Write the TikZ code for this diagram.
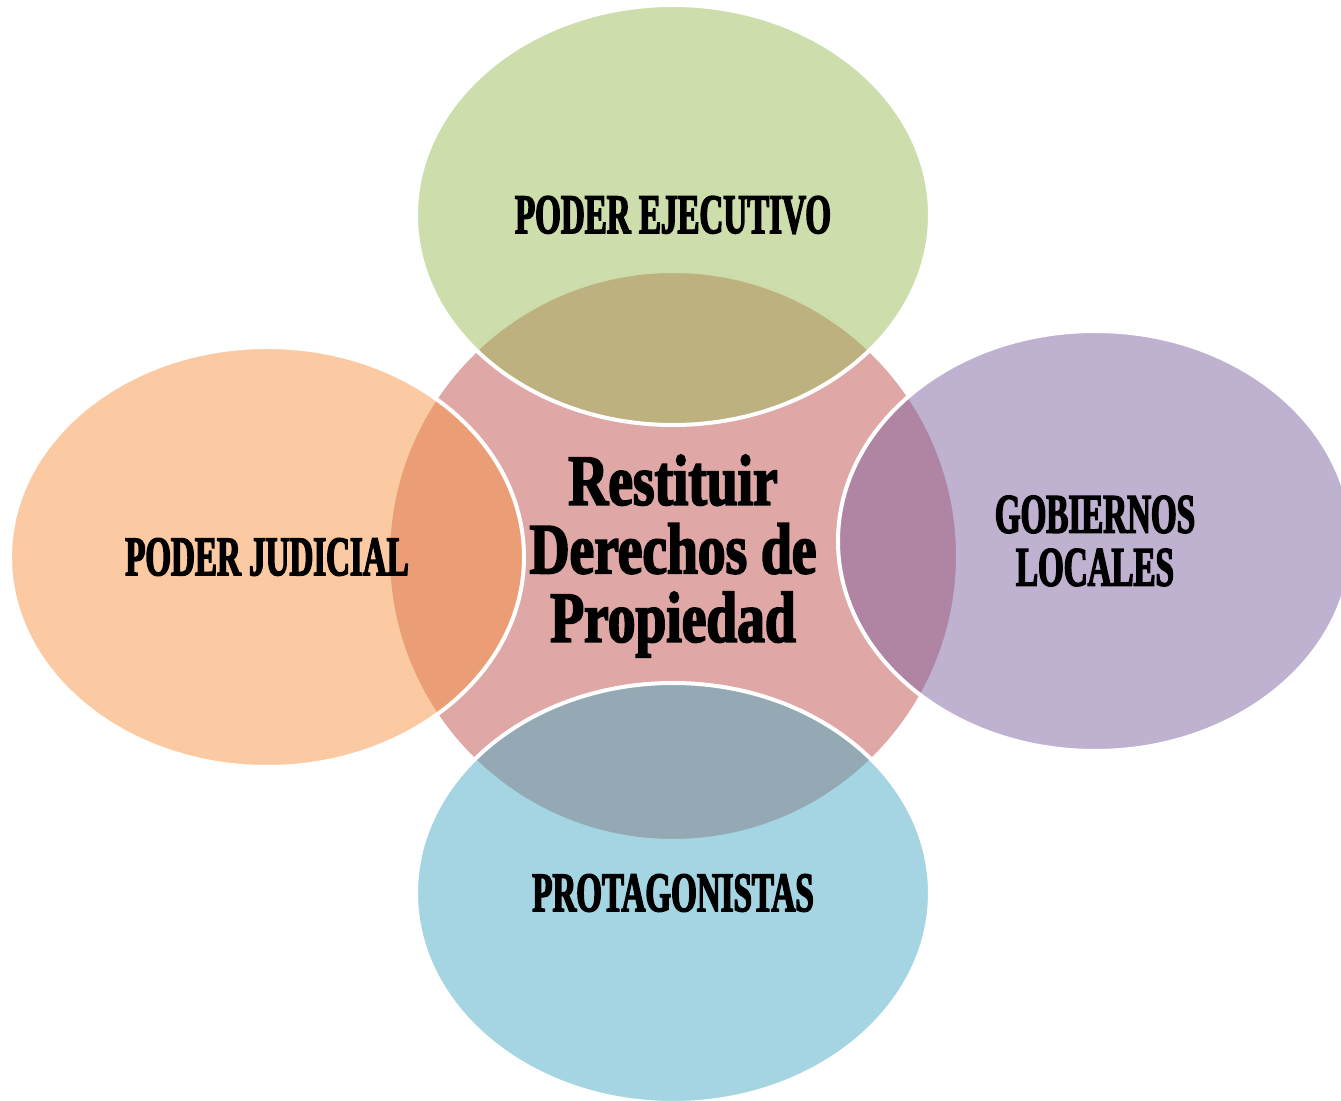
\documentclass[tikz,border=0pt]{standalone}
\usepackage{fontspec}
\usetikzlibrary{shapes.geometric}
\setmainfont{Liberation Serif}
\newfontfamily\lblfont[FakeStretch=0.59,FakeBold=2.5]{Liberation Serif Bold}
\newfontfamily\ctrfont[FakeStretch=0.77,FakeBold=2.5]{Liberation Serif Bold}
\definecolor{cgreen}{HTML}{9BBB59}
\definecolor{corange}{HTML}{F79646}
\definecolor{cpurple}{HTML}{8064A2}
\definecolor{caqua}{HTML}{4BACC6}
\definecolor{cred}{HTML}{C0504D}
\tikzset{
  bubble/.style={ellipse, minimum width=257pt, minimum height=210pt, inner sep=0pt,
    fill opacity=0.5, text opacity=1, draw=white, draw opacity=1, line width=2pt,
    align=center, text=black, font=\lblfont\fontsize{28}{26.5}\selectfont},
  hub/.style={circle, minimum size=285pt, inner sep=0pt, fill=cred, fill opacity=0.5,
    draw=white, draw opacity=1, line width=2pt},
  hubtext/.style={align=center, text=black, font=\ctrfont\fontsize{36}{34.25}\selectfont}
}
\begin{document}
\begin{tikzpicture}[x=0.5pt,y=-0.5pt]
\useasboundingbox (0,0) rectangle (1341,1101);
\clip (0,0) rectangle (1341,1101);
\node[hub] (hub) at (673,556) {};
\node[bubble, fill=cgreen] (ejec) at (673,215) {PODER EJECUTIVO};
\node[bubble, fill=corange] (jud) at (267,557) {PODER JUDICIAL};
\node[bubble, fill=cpurple] (gob) at (1095,541) {GOBIERNOS\\LOCALES};
\node[bubble, fill=caqua] (prot) at (673,893) {PROTAGONISTAS};
\node[hubtext] (hubt) at (673,556) {Restituir\\Derechos de\\Propiedad};
\end{tikzpicture}
\end{document}
